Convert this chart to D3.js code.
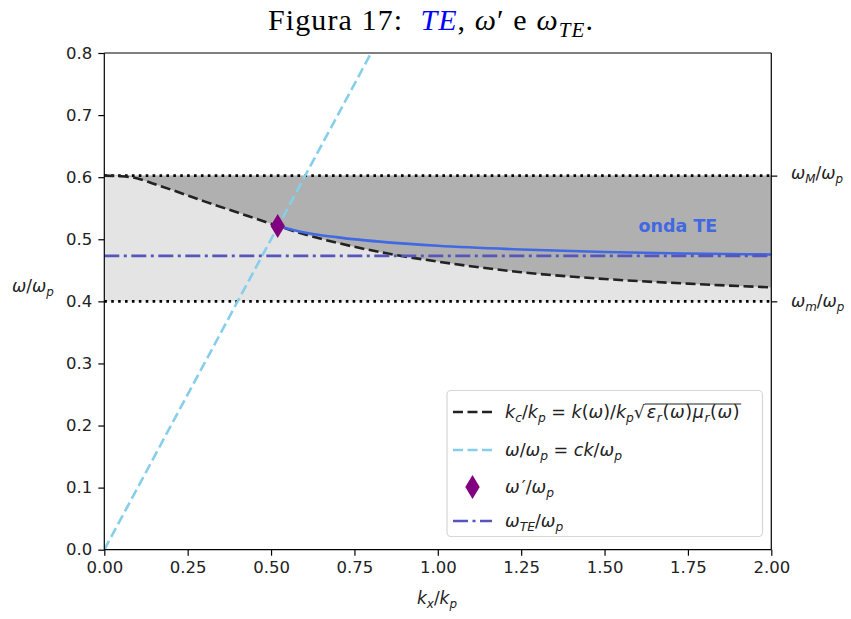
<!DOCTYPE html>
<html><head><meta charset="utf-8">
<script src="https://cdn.jsdelivr.net/npm/d3@7"></script>
<style>body{margin:0;background:#fff}svg{display:block}</style>
</head><body>
<svg id="c" width="851" height="619"></svg>
<script>
// ---- data ----
const xTicks = [0, 0.25, 0.5, 0.75, 1.0, 1.25, 1.5, 1.75, 2.0];
const yTicks = [0, 0.1, 0.2, 0.3, 0.4, 0.5, 0.6, 0.7, 0.8];
const kcX = [0, 0.05, 0.1, 0.15, 0.2, 0.3, 0.4, 0.5, 0.6, 0.7, 0.85, 1.0, 1.25, 1.5, 1.75, 2.0];
const kcY = [0.6025, 0.6015, 0.598, 0.589, 0.580, 0.561, 0.543, 0.525, 0.508, 0.494, 0.477, 0.464, 0.447, 0.436, 0.4285, 0.4225];
const teX = [0.52, 0.6, 0.7, 0.85, 1.0, 1.25, 1.5, 1.75, 2.0];
const teY = [0.5215, 0.511, 0.503, 0.495, 0.4895, 0.4835, 0.4795, 0.477, 0.4755];
const lightX = [0, 0.8];
const lightY = [0, 0.8];
const omegaM = 0.6025;
const omegaMin = 0.4;
const omegaTE = 0.4733;
const omegaPrime = [0.52, 0.5215];

// ---- layout ----
const L = 104.3, R = 771.3, T = 53, B = 549.7;
const svg = d3.select("#c");
const x = d3.scaleLinear().domain([0, 2]).range([L, R]);
const y = d3.scaleLinear().domain([0, 0.8]).range([B, T]);
const FONT = "DejaVu Sans";

svg.append("defs").append("clipPath").attr("id", "clip")
  .append("rect").attr("x", L).attr("y", T).attr("width", R - L).attr("height", B - T);
const plot = svg.append("g").attr("clip-path", "url(#clip)");

const kc = kcX.map((v, i) => [v, kcY[i]]);
const te = teX.map((v, i) => [v, teY[i]]);
const curve = d3.curveMonotoneX;

// light band
plot.append("path")
  .attr("d", d3.area().x(d => x(d)).y0(y(omegaMin)).y1(y(omegaM))([0, 2]))
  .attr("fill", "#e4e4e4");
// dark region above kc curve
plot.append("path")
  .attr("d", d3.area().curve(curve).x(d => x(d[0])).y0(d => y(d[1])).y1(y(omegaM))(kc))
  .attr("fill", "#b0b0b0");

// dotted bounds
[omegaM, omegaMin].forEach(v => {
  plot.append("line").attr("x1", x(0)).attr("x2", x(2)).attr("y1", y(v)).attr("y2", y(v))
    .attr("stroke", "#000").attr("stroke-width", 2.6).attr("stroke-dasharray", "2.6,4.3");
});

const line = d3.line().curve(curve).x(d => x(d[0])).y(d => y(d[1]));
// kc curve
plot.append("path").attr("d", line(kc)).attr("fill", "none")
  .attr("stroke", "#222").attr("stroke-width", 2.6).attr("stroke-dasharray", "10,4.5");
// light line
plot.append("path").attr("d", d3.line().x(d => x(d[0])).y(d => y(d[1]))(lightX.map((v, i) => [v, lightY[i]])))
  .attr("fill", "none").attr("stroke", "#87ceeb").attr("stroke-width", 2.6).attr("stroke-dasharray", "10,4.5");
// TE curve
plot.append("path").attr("d", line(te)).attr("fill", "none")
  .attr("stroke", "#4169e1").attr("stroke-width", 2.6);
// omega TE
plot.append("line").attr("x1", x(0)).attr("x2", x(2)).attr("y1", y(omegaTE)).attr("y2", y(omegaTE))
  .attr("stroke", "#5555bb").attr("stroke-width", 2.6).attr("stroke-dasharray", "15,4.5,3,4.5");

// diamond
function diamond(g, cx, cy) {
  g.append("path").attr("d", `M${cx},${cy - 12}L${cx + 7.2},${cy}L${cx},${cy + 12}L${cx - 7.2},${cy}Z`)
    .attr("fill", "#800080");
}
diamond(svg, x(omegaPrime[0]), y(omegaPrime[1]));

// onda TE label
svg.append("text").attr("x", x(1.72)).attr("y", y(0.512)).attr("text-anchor", "middle")
  .attr("font-family", FONT).attr("font-weight", "bold").attr("font-size", 17.5)
  .attr("fill", "#4169e1").text("onda TE");

// ---- axes ----
const xAxis = svg.append("g").attr("transform", `translate(0,${B})`)
  .call(d3.axisBottom(x).tickValues(xTicks).tickFormat(d3.format(".2f")).tickSize(6).tickPadding(6));
const yAxis = svg.append("g").attr("transform", `translate(${L},0)`)
  .call(d3.axisLeft(y).tickValues(yTicks).tickFormat(d3.format(".1f")).tickSize(6).tickPadding(6));
const yRight = svg.append("g").attr("transform", `translate(${R},0)`)
  .call(d3.axisRight(y).tickValues([omegaM, omegaMin]).tickFormat("").tickSize(6));
svg.append("line").attr("x1", L).attr("x2", R).attr("y1", T).attr("y2", T).attr("stroke", "#000").attr("stroke-width", 1.2);
[xAxis, yAxis, yRight].forEach(a => {
  a.selectAll("text").attr("font-family", FONT).attr("font-size", 16.5).attr("fill", "#222");
  a.selectAll("line").attr("stroke", "#000").attr("stroke-width", 1.2);
  a.select(".domain").attr("stroke", "#000").attr("stroke-width", 1.2);
});
xAxis.select(".domain").attr("d", `M${L},0H${R}`);
yAxis.select(".domain").attr("d", `M0,${B}V${T}`);
yRight.select(".domain").attr("d", `M0,${B}V${T}`);

// ---- math text helper ----
function mathText(g, px, py, parts, size, anchor, family) {
  const t = g.append("text").attr("x", px).attr("y", py).attr("font-size", size)
    .attr("font-family", family || FONT).attr("text-anchor", anchor || "start").attr("fill", "#222");
  let shift = 0;
  parts.forEach(p => {
    const ts = t.append("tspan").text(p.t);
    if (p.i) ts.attr("font-style", "italic");
    if (p.c) ts.attr("fill", p.c);
    if (p.dx) ts.attr("dx", p.dx);
    const target = p.sub ? size * 0.24 : (p.sup ? -size * 0.32 : 0);
    if (target - shift !== 0) ts.attr("dy", target - shift);
    shift = target;
    if (p.sub) ts.attr("font-size", size * 0.7);
    if (p.sup) ts.attr("font-size", size * 0.8);
  });
  return t;
}

// axis labels
mathText(svg, 33, 292, [{t: "ω", i: 1}, {t: "/"}, {t: "ω", i: 1}, {t: "p", i: 1, sub: 1}], 17, "middle");
mathText(svg, 437, 604, [{t: "k", i: 1}, {t: "x", i: 1, sub: 1}, {t: "/"}, {t: "k", i: 1}, {t: "p", i: 1, sub: 1}], 17, "middle");
mathText(svg, 791, y(omegaM) + 3, [{t: "ω", i: 1}, {t: "M", i: 1, sub: 1}, {t: "/"}, {t: "ω", i: 1}, {t: "p", i: 1, sub: 1}], 17, "start");
mathText(svg, 791, y(omegaMin) + 6, [{t: "ω", i: 1}, {t: "m", i: 1, sub: 1}, {t: "/"}, {t: "ω", i: 1}, {t: "p", i: 1, sub: 1}], 17, "start");

// title
const SERIF = "Liberation Serif";
mathText(svg, 431, 30, [
  {t: "Figura 17:\u00a0 "}, {t: "TE", i: 1, c: "#0000ff"}, {t: ",\u00a0"}, {t: "ω", i: 1}, {t: "′\u00a0e\u00a0"},
  {t: "ω", i: 1}, {t: "TE", i: 1, sub: 1}, {t: "."}
], 30, "middle", SERIF).attr("fill", "#000").attr("letter-spacing", 1.1);

// ---- legend ----
const lg = svg.append("g");
lg.append("rect").attr("x", 447).attr("y", 390.5).attr("width", 315.5).attr("height", 146).attr("rx", 4)
  .attr("fill", "#fff").attr("fill-opacity", 0.85).attr("stroke", "#d6d6d6").attr("stroke-width", 1.2);
const rows = [412, 450, 487, 521];
const hx1 = 453, hx2 = 492, tx = 505;
lg.append("line").attr("x1", hx1).attr("x2", hx2).attr("y1", rows[0]).attr("y2", rows[0])
  .attr("stroke", "#222").attr("stroke-width", 2.6).attr("stroke-dasharray", "10,4.5");
lg.append("line").attr("x1", hx1).attr("x2", hx2).attr("y1", rows[1]).attr("y2", rows[1])
  .attr("stroke", "#87ceeb").attr("stroke-width", 2.6).attr("stroke-dasharray", "10,4.5");
diamond(lg, (hx1 + hx2) / 2, rows[2]);
lg.append("line").attr("x1", hx1).attr("x2", hx2).attr("y1", rows[3]).attr("y2", rows[3])
  .attr("stroke", "#5555bb").attr("stroke-width", 2.6).attr("stroke-dasharray", "15,4.5,3,4.5");

const LS = 17.5;
const t1 = mathText(lg, tx, rows[0] + 6, [
  {t: "k", i: 1}, {t: "c", i: 1, sub: 1}, {t: "/"}, {t: "k", i: 1}, {t: "p", i: 1, sub: 1},
  {t: " = "}, {t: "k", i: 1}, {t: "(", }, {t: "ω", i: 1}, {t: ")/"}, {t: "k", i: 1}, {t: "p", i: 1, sub: 1}, {t: "√"}
], LS, "start");
const w1 = t1.node().getBBox();
const rad = mathText(lg, w1.x + w1.width + 1, rows[0] + 6, [
  {t: "ε", i: 1}, {t: "r", i: 1, sub: 1}, {t: "("}, {t: "ω", i: 1}, {t: ")"},
  {t: "μ", i: 1}, {t: "r", i: 1, sub: 1}, {t: "("}, {t: "ω", i: 1}, {t: ")"}
], LS, "start").attr("letter-spacing", 0.6);
const rb = rad.node().getBBox();
lg.append("line").attr("x1", w1.x + w1.width - 1).attr("x2", rb.x + rb.width + 1)
  .attr("y1", w1.y + 2).attr("y2", w1.y + 2).attr("stroke", "#222").attr("stroke-width", 1.1);

mathText(lg, tx, rows[1] + 6, [
  {t: "ω", i: 1}, {t: "/"}, {t: "ω", i: 1}, {t: "p", i: 1, sub: 1}, {t: " = "},
  {t: "ck", i: 1}, {t: "/"}, {t: "ω", i: 1}, {t: "p", i: 1, sub: 1}
], LS, "start");
mathText(lg, tx, rows[2] + 6, [
  {t: "ω", i: 1}, {t: "′", dx: 2}, {t: "/"}, {t: "ω", i: 1}, {t: "p", i: 1, sub: 1}
], LS, "start");
mathText(lg, tx, rows[3] + 6, [
  {t: "ω", i: 1}, {t: "TE", i: 1, sub: 1}, {t: "/"}, {t: "ω", i: 1}, {t: "p", i: 1, sub: 1}
], LS, "start");
</script>
</body></html>
